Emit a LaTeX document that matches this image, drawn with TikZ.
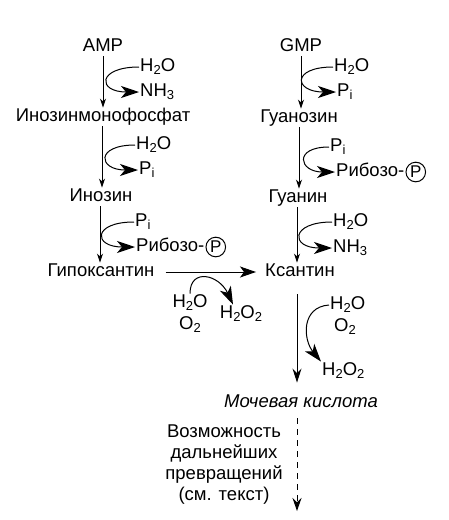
\documentclass[tikz,border=0pt]{standalone}
\usepackage{fontspec}
\setmainfont{Liberation Sans}
\usetikzlibrary{arrows.meta}
\newcommand{\lowi}[1]{{\fontsize{13}{13}\selectfont\raisebox{-2.5pt}{#1}}}
\tikzset{
  met/.style={inner sep=1pt, text height=13pt, text depth=3.5pt,
    font=\fontsize{18.5}{21}\selectfont},
  sub/.style={met, anchor=west},
  rxn/.style={line width=1pt, -{Stealth[length=9pt,width=6pt]}},
  bigrxn/.style={line width=1pt, -{Stealth[length=16pt,width=11pt,inset=4pt]}},
  side/.style={line width=1pt, -{Stealth[length=18pt,width=12pt,inset=5pt]}},
  phos/.style={draw, circle, line width=1pt, inner sep=1.2pt,
    font=\fontsize{17}{18}\selectfont}
}
\begin{document}
\begin{tikzpicture}[x=1pt,y=-1pt]
    \useasboundingbox (0,0) rectangle (449,520);

    % Left column: AMP to hypoxanthine
    \node[met] (amp) at (103,47) {AMP};
    \node[met] (imp) at (103,117) {Инозинмонофосфат};
    \node[met] (ino) at (101,197) {Инозин};
    \node[met] (hyp) at (101,272) {Гипоксантин};
    \node[sub] (h2oA) at (139,67) {H\lowi{2}O};
    \node[sub] (nh3A) at (139,92) {NH\lowi{3}};
    \node[sub] (h2oB) at (135,145) {H\lowi{2}O};
    \node[sub] (piA) at (138,170) {P\lowi{i}};
    \node[sub] (piB) at (134,222) {P\lowi{i}};
    \node[sub] (ribA) at (135,247) {Рибозо-};
    \node[phos, anchor=west] (pA) at (ribA.east) {P};

    \draw[rxn] (amp.south -| 103,0) -- (imp.north -| 103,0);
    \draw[rxn] (imp.south -| 102,0) -- (ino.north -| 102,0);
    \draw[rxn] (ino.south -| 100,0) -- (hyp.north -| 100,0);
    \draw[side] (h2oA.west) .. controls +(-42,0) and +(-42,0) .. (nh3A.west);
    \draw[side] (h2oB.west) .. controls +(-40,0) and +(-40,0) .. (piA.west);
    \draw[side] (piB.west) .. controls +(-42,0) and +(-42,0) .. (ribA.west);

    % Right column: GMP to xanthine
    \node[met] (gmp) at (301,47) {GMP};
    \node[met] (guo) at (299,118) {Гуанозин};
    \node[met] (gua) at (298,198) {Гуанин};
    \node[met] (xan) at (300,272) {Ксантин};
    \node[sub] (h2oD) at (333,67) {H\lowi{2}O};
    \node[sub] (piD) at (336,92) {P\lowi{i}};
    \node[sub] (piE) at (329,147) {P\lowi{i}};
    \node[sub] (ribE) at (335,172) {Рибозо-};
    \node[phos, anchor=west] (pE) at (ribE.east) {P};
    \node[sub] (h2oF) at (332,222) {H\lowi{2}O};
    \node[sub] (nh3F) at (332,248) {NH\lowi{3}};

    \draw[rxn] (gmp.south -| 301,0) -- (guo.north -| 301,0);
    \draw[rxn] (guo.south -| 299,0) -- (gua.north -| 299,0);
    \draw[rxn] (gua.south -| 297,0) -- (xan.north -| 297,0);
    \draw[side] (h2oD.west) .. controls +(-42,0) and +(-42,0) .. (piD.west);
    \draw[side] (piE.west) .. controls +(-36,0) and +(-36,0) .. (ribE.west);
    \draw[side] (h2oF.west) .. controls +(-42,0) and +(-42,0) .. (nh3F.west);

    % Hypoxanthine to xanthine
    \node[met] (h2oC) at (190,303) {H\lowi{2}O};
    \node[met] (o2C) at (190,325) {O\lowi{2}};
    \node[met] (h2o2C) at (241,314) {H\lowi{2}O\lowi{2}};
    \draw[bigrxn, shorten <=10pt, shorten >=8pt] (hyp.east) -- (xan.west);
    \draw[side] (h2oC.north) .. controls +(0,-26) and +(-14,-30) .. ([xshift=-8pt]h2o2C.north);

    % Xanthine to uric acid
    \node[sub] (h2oG) at (329,305) {H\lowi{2}O};
    \node[met] (o2G) at (345,327) {O\lowi{2}};
    \node[sub] (h2o2G) at (321,371) {H\lowi{2}O\lowi{2}};
    \node[met, font=\fontsize{18.5}{21}\selectfont\itshape] (uric) at (301,403) {Мочевая кислота};
    \draw[line width=1pt, -{Stealth[length=14pt,width=9pt]}, shorten <=13pt, shorten >=11pt]
        (xan.south -| 297,0) -- (uric.north -| 297,0);
    \draw[side] (h2oG.west) .. controls +(-28,2) and +(-18,-22) .. (h2o2G.north west);

    % Further conversions
    \node[met, align=center, text height=, text depth=] (note) at (224,465)
        {Возможность\\дальнейших\\превращений\\(см. текст)};
    \coordinate (fin) at (297,511);
    \draw[line width=1pt, dash pattern=on 6pt off 5pt, -{Stealth[length=13pt,width=9pt]},
        shorten <=6pt] (uric.south -| 297,0) -- (fin);
\end{tikzpicture}
\end{document}
